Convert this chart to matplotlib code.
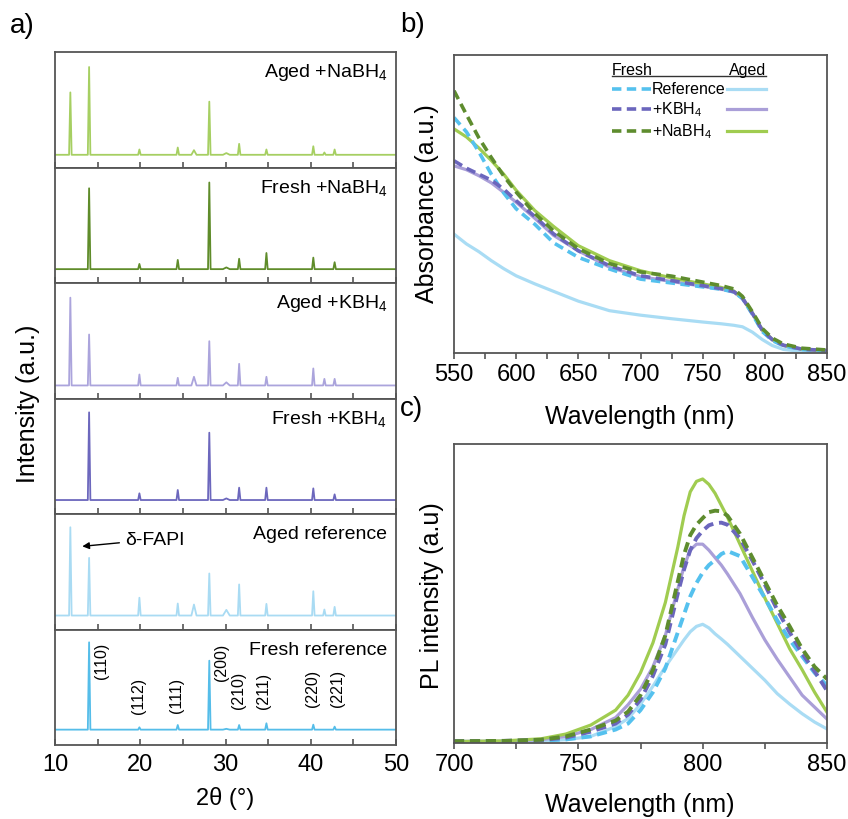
import matplotlib
matplotlib.use("Agg")
import matplotlib.pyplot as plt
from matplotlib.lines import Line2D
from matplotlib.ticker import MultipleLocator

plt.rcParams['font.family'] = ['Liberation Sans', 'DejaVu Sans']
plt.rcParams['mathtext.fontset'] = 'custom'
plt.rcParams['mathtext.rm'] = 'Liberation Sans'
plt.rcParams['mathtext.it'] = 'Liberation Sans:italic'
plt.rcParams['mathtext.bf'] = 'Liberation Sans:bold'

# ---------------- Data: XRD (panel a) ----------------
peaks_2theta = [11.8, 14.0, 19.9, 24.4, 26.3, 28.1, 30.1, 31.6, 34.8, 40.3, 41.6, 42.8]
peak_widths = [0.15, 0.15, 0.15, 0.15, 0.3, 0.15, 0.4, 0.15, 0.15, 0.15, 0.15, 0.15]

xrd_labels = ["Aged +NaBH$_4$", "Fresh +NaBH$_4$", "Aged +KBH$_4$",
              "Fresh +KBH$_4$", "Aged reference", "Fresh reference"]
xrd_baselines = [0.11, 0.12, 0.113, 0.121, 0.121, 0.133]
xrd_aged_nabh4 = [0.65, 0.87, 0.156, 0.173, 0.15, 0.57, 0.125, 0.205, 0.156, 0.184, 0.13, 0.156]
xrd_fresh_nabh4 = [0.12, 0.82, 0.165, 0.20, 0.12, 0.87, 0.135, 0.21, 0.26, 0.22, 0.12, 0.18]
xrd_aged_kbh4 = [0.873, 0.554, 0.208, 0.179, 0.188, 0.496, 0.14, 0.30, 0.188, 0.26, 0.17, 0.17]
xrd_fresh_kbh4 = [0.121, 0.88, 0.179, 0.208, 0.121, 0.704, 0.135, 0.228, 0.228, 0.222, 0.121, 0.17]
xrd_aged_ref = [0.885, 0.62, 0.275, 0.225, 0.216, 0.485, 0.17, 0.39, 0.222, 0.331, 0.173, 0.196]
xrd_fresh_ref = [0.133, 0.889, 0.153, 0.173, 0.133, 0.73, 0.14, 0.173, 0.188, 0.176, 0.133, 0.159]
xrd_colors = ["#a6cf62", "#5f8c2a", "#aba4dc", "#6c67bd", "#a9dbf3", "#55bde9"]

hkl_labels = ["(110)", "(112)", "(111)", "(200)", "(210)", "(211)", "(220)", "(221)"]
hkl_x = [15.5, 19.8, 24.2, 29.55, 31.5, 34.45, 40.2, 43.1]
hkl_y = [0.74, 0.435, 0.435, 0.72, 0.48, 0.48, 0.50, 0.50]

# ---------------- Data: absorbance (panel b) ----------------
wl_abs = [550, 560, 570, 580, 590, 600, 615, 630, 650, 675, 700, 725, 750,
          765, 775, 782, 790, 798, 806, 815, 830, 850]
abs_fresh_ref = [0.79, 0.742, 0.675, 0.600, 0.537, 0.484, 0.432, 0.37, 0.321, 0.282, 0.248,
                 0.235, 0.222, 0.214, 0.205, 0.183, 0.13, 0.072, 0.042, 0.024, 0.012, 0.007]
abs_fresh_kbh4 = [0.645, 0.62, 0.60, 0.58, 0.55, 0.511, 0.458, 0.40, 0.343, 0.293, 0.259,
                  0.243, 0.226, 0.216, 0.206, 0.184, 0.133, 0.076, 0.045, 0.026, 0.013, 0.008]
abs_fresh_nabh4 = [0.88, 0.80, 0.722, 0.656, 0.594, 0.54, 0.468, 0.41, 0.35, 0.30, 0.272,
                   0.258, 0.238, 0.226, 0.215, 0.19, 0.138, 0.082, 0.05, 0.03, 0.016, 0.01]
abs_aged_ref = [0.399, 0.366, 0.34, 0.31, 0.283, 0.259, 0.232, 0.207, 0.174, 0.142, 0.127,
                0.115, 0.104, 0.098, 0.093, 0.088, 0.07, 0.045, 0.025, 0.012, 0.005, 0.002]
abs_aged_kbh4 = [0.628, 0.615, 0.595, 0.571, 0.539, 0.506, 0.452, 0.395, 0.343, 0.288, 0.256,
                 0.24, 0.224, 0.214, 0.205, 0.183, 0.132, 0.075, 0.044, 0.025, 0.012, 0.007]
abs_aged_nabh4 = [0.752, 0.725, 0.688, 0.646, 0.600, 0.546, 0.478, 0.425, 0.36, 0.31, 0.276,
                  0.252, 0.232, 0.22, 0.208, 0.185, 0.135, 0.078, 0.046, 0.026, 0.013, 0.008]

# ---------------- Data: PL (panel c) ----------------
wl_pl = [700, 720, 735, 745, 755, 765, 770, 775, 780, 785, 790, 792.5, 795, 797.5, 800,
         802.5, 805, 807.5, 810, 815, 820, 825, 830, 835, 840, 845, 850]
pl_fresh_ref = [0.005, 0.006, 0.008, 0.012, 0.022, 0.045, 0.065, 0.11, 0.17, 0.25, 0.37, 0.43,
                0.49, 0.535, 0.57, 0.595, 0.612, 0.632, 0.642, 0.625, 0.555, 0.485, 0.41,
                0.345, 0.29, 0.235, 0.192]
pl_fresh_kbh4 = [0.006, 0.007, 0.01, 0.018, 0.038, 0.065, 0.095, 0.145, 0.225, 0.33, 0.5, 0.58,
                 0.645, 0.685, 0.71, 0.728, 0.735, 0.737, 0.73, 0.685, 0.61, 0.53, 0.445,
                 0.37, 0.3, 0.24, 0.175]
pl_fresh_nabh4 = [0.006, 0.007, 0.011, 0.022, 0.045, 0.075, 0.105, 0.16, 0.245, 0.36, 0.54, 0.63,
                  0.695, 0.73, 0.752, 0.772, 0.777, 0.775, 0.76, 0.70, 0.62, 0.54, 0.46,
                  0.39, 0.315, 0.255, 0.214]
pl_aged_ref = [0.005, 0.005, 0.007, 0.011, 0.022, 0.055, 0.082, 0.13, 0.19, 0.255, 0.315, 0.345,
               0.372, 0.39, 0.397, 0.385, 0.365, 0.348, 0.33, 0.29, 0.25, 0.21, 0.165,
               0.13, 0.098, 0.07, 0.047]
pl_aged_kbh4 = [0.005, 0.006, 0.011, 0.022, 0.045, 0.085, 0.128, 0.18, 0.255, 0.36, 0.515, 0.59,
                0.645, 0.665, 0.665, 0.645, 0.62, 0.595, 0.565, 0.50, 0.42, 0.345, 0.28,
                0.22, 0.16, 0.12, 0.08]
pl_aged_nabh4 = [0.005, 0.007, 0.014, 0.03, 0.06, 0.11, 0.16, 0.235, 0.335, 0.47, 0.655, 0.76,
                 0.84, 0.875, 0.883, 0.865, 0.835, 0.795, 0.755, 0.665, 0.575, 0.485, 0.40,
                 0.315, 0.245, 0.17, 0.103]

legend_rows = ["Reference", "+KBH$_4$", "+NaBH$_4$"]
col_fresh = ["#55c1ee", "#6b66bd", "#5e8c2e"]
col_aged = ["#a9dcf4", "#aa9fd8", "#a0cc50"]

SPINE = "#555555"

fig = plt.figure(figsize=(8.48, 8.2), dpi=100)

# ---------------- Panel a ----------------
a_left, a_right = 55 / 848, 396 / 848
a_top, a_bot = 1 - 53 / 820, 1 - 746 / 820
sub_h = (a_top - a_bot) / 6
xrd_sets = [xrd_aged_nabh4, xrd_fresh_nabh4, xrd_aged_kbh4, xrd_fresh_kbh4, xrd_aged_ref, xrd_fresh_ref]
axes_a = []
for i, (heights, base, col, lab) in enumerate(zip(xrd_sets, xrd_baselines, xrd_colors, xrd_labels)):
    ax = fig.add_axes([a_left, a_top - (i + 1) * sub_h, a_right - a_left, sub_h])
    xs, ys = [10.0], [base]
    for p, w, h in zip(peaks_2theta, peak_widths, heights):
        if h > base + 1e-6:
            xs += [p - w, p, p + w]
            ys += [base, h, base]
    xs.append(50.0)
    ys.append(base)
    ax.plot(xs, ys, color=col, lw=1.3)
    ax.set_xlim(10, 50)
    ax.set_ylim(0, 1)
    ax.set_yticks([])
    ax.xaxis.set_major_locator(MultipleLocator(10))
    ax.xaxis.set_minor_locator(MultipleLocator(5))
    ax.tick_params(axis='x', which='both', direction='in', length=4, width=1.2, color=SPINE,
                   labelsize=17, pad=6)
    if i < 5:
        ax.tick_params(axis='x', labelbottom=False)
    for s in ax.spines.values():
        s.set_color(SPINE)
        s.set_linewidth(1.3)
    ax.text(0.975, 0.83, lab, transform=ax.transAxes, ha='right', va='center', fontsize=14)
    axes_a.append(ax)

ax_ar = axes_a[4]
ax_ar.annotate("δ-FAPI", xy=(13.2, 0.72), xytext=(18.2, 0.78), fontsize=14, va='center', ha='left',
               arrowprops=dict(arrowstyle='-|>', color='black', lw=1.0, mutation_scale=10,
                               shrinkA=2, shrinkB=0))
ax_fr = axes_a[5]
for t, x, y in zip(hkl_labels, hkl_x, hkl_y):
    ax_fr.text(x, y, t, rotation=90, ha='center', va='center', fontsize=11.5)

fig.text(28 / 848, 0.508, "Intensity (a.u.)", rotation=90, ha='center', va='center', fontsize=18)
fig.text(0.265, 0.026, "2θ (°)", ha='center', va='center', fontsize=17)
fig.text(0.012, 0.968, "a)", ha='left', va='center', fontsize=20)

# ---------------- Panel b ----------------
axb = fig.add_axes([454 / 848, 1 - 354 / 820, 373 / 848, 298 / 820])
dash = (0, (2.6, 1.5))
for y, c in zip([abs_aged_ref, abs_aged_kbh4, abs_aged_nabh4], col_aged):
    axb.plot(wl_abs, y, color=c, lw=2.3)
for y, c in zip([abs_fresh_ref, abs_fresh_kbh4, abs_fresh_nabh4], col_fresh):
    axb.plot(wl_abs, y, color=c, lw=2.6, ls=dash)
axb.set_xlim(550, 850)
axb.set_ylim(0, 1)
axb.set_yticks([])
axb.xaxis.set_major_locator(MultipleLocator(50))
axb.xaxis.set_minor_locator(MultipleLocator(25))
axb.tick_params(axis='x', which='both', direction='out', length=4, width=1.2, color=SPINE,
                labelsize=17, pad=3)
for s in axb.spines.values():
    s.set_color(SPINE)
    s.set_linewidth(1.3)

# manual legend
tr = axb.transAxes
axb.text(0.423, 0.953, "Fresh", transform=tr, ha='left', va='center', fontsize=11.5)
axb.text(0.836, 0.953, "Aged", transform=tr, ha='right', va='center', fontsize=11.5)
axb.add_line(Line2D([0.423, 0.836], [0.928, 0.928], transform=tr, color='#333333', lw=1.0))
row_y = [0.886, 0.819, 0.746]
for lab, yy, cf, ca in zip(legend_rows, row_y, col_fresh, col_aged):
    axb.add_line(Line2D([0.423, 0.527], [yy, yy], transform=tr, color=cf, lw=2.6, ls=dash))
    axb.add_line(Line2D([0.732, 0.836], [yy, yy], transform=tr, color=ca, lw=2.3))
    axb.text(0.53, yy, lab, transform=tr, ha='left', va='center', fontsize=11.5)

fig.text(0.5035, 0.752, "Absorbance (a.u.)", rotation=90, ha='center', va='center', fontsize=18)
fig.text(0.755, 0.491, "Wavelength (nm)", ha='center', va='center', fontsize=18)
fig.text(0.472, 0.969, "b)", ha='left', va='center', fontsize=20)

# ---------------- Panel c ----------------
axc = fig.add_axes([454 / 848, 1 - 744 / 820, 373 / 848, 299 / 820])
for y, c in zip([pl_aged_ref, pl_aged_kbh4, pl_aged_nabh4], col_aged):
    axc.plot(wl_pl, y, color=c, lw=2.3)
for y, c in zip([pl_fresh_ref, pl_fresh_kbh4, pl_fresh_nabh4], col_fresh):
    axc.plot(wl_pl, y, color=c, lw=2.8, ls=dash)
axc.set_xlim(700, 850)
axc.set_ylim(0, 1)
axc.set_yticks([])
axc.xaxis.set_major_locator(MultipleLocator(50))
axc.xaxis.set_minor_locator(MultipleLocator(25))
axc.tick_params(axis='x', which='both', direction='out', length=4, width=1.2, color=SPINE,
                labelsize=17, pad=3)
for s in axc.spines.values():
    s.set_color(SPINE)
    s.set_linewidth(1.3)

fig.text(0.509, 0.274, "PL intensity (a.u)", rotation=90, ha='center', va='center', fontsize=18)
fig.text(0.755, 0.018, "Wavelength (nm)", ha='center', va='center', fontsize=18)
fig.text(0.472, 0.501, "c)", ha='left', va='center', fontsize=20)

fig.savefig("out.png", dpi=100)
